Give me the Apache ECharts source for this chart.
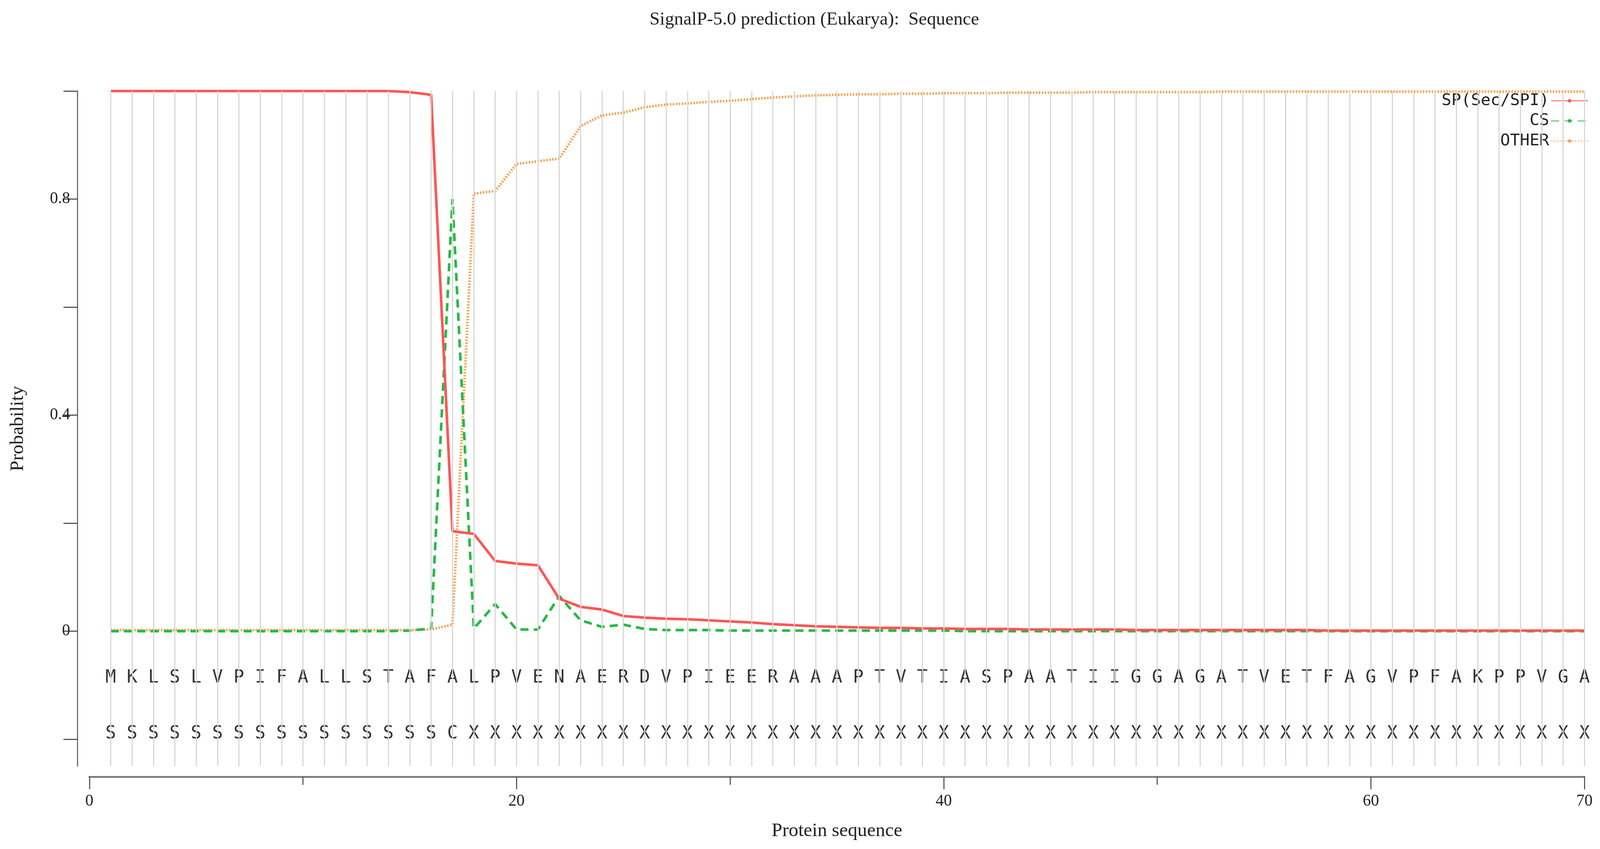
<!DOCTYPE html>
<html><head><meta charset="utf-8">
<script src="https://cdn.jsdelivr.net/npm/echarts@6/dist/echarts.min.js"></script>
<style>html,body{margin:0;padding:0;background:#fff;overflow:hidden}#c{width:100vw;height:100vh}</style>
</head><body><div id="c"></div>
<script>
const residues = "MKLSLVPIFALLSTAFALPVENAERDVPIEERAAAPTVTIASPAATIIGGAGATVETFAGVPFAKPPVGA".split("");
const labels = "SSSSSSSSSSSSSSSSCXXXXXXXXXXXXXXXXXXXXXXXXXXXXXXXXXXXXXXXXXXXXXXXXXXXXX".split("");
const positions = residues.map((_, i) => i + 1);
const sp = [1.0,1.0,1.0,1.0,1.0,1.0,1.0,1.0,1.0,1.0,1.0,1.0,1.0,1.0,0.998,0.993,0.185,0.18,0.13,0.125,
  0.122,0.06,0.045,0.04,0.028,0.025,0.023,0.022,0.02,0.018,0.016,0.013,0.011,0.009,0.008,0.007,0.006,0.006,0.005,0.005,
  0.004,0.004,0.004,0.003,0.003,0.003,0.003,0.003,0.002,0.002,0.002,0.002,0.002,0.002,0.002,0.002,0.002,0.001,0.001,0.001,
  0.001,0.001,0.001,0.001,0.001,0.001,0.001,0.001,0.001,0.001];
const cs = [0,0,0,0,0,0,0,0,0,0,0,0,0,0,0.001,0.005,0.80,0.005,0.05,0.003,
  0.003,0.065,0.02,0.008,0.012,0.004,0.002,0.002,0.002,0.001,0.001,0.001,0.001,0.001,0.001,0.001,0.001,0.001,0.001,0.001,
  0,0,0,0,0,0,0,0,0,0,0,0,0,0,0,0,0,0,0,0,0,0,0,0,0,0,0,0,0,0];
const other = [0.002,0.002,0.002,0.002,0.002,0.002,0.002,0.002,0.002,0.002,0.002,0.002,0.002,0.002,0.002,0.003,0.012,0.81,0.815,0.865,
  0.87,0.875,0.935,0.955,0.96,0.97,0.975,0.977,0.98,0.982,0.985,0.988,0.99,0.992,0.993,0.994,0.994,0.995,0.995,0.996,
  0.996,0.996,0.997,0.997,0.997,0.997,0.998,0.998,0.998,0.998,0.998,0.998,0.999,0.999,0.999,0.999,0.999,0.999,0.999,0.999,
  0.999,0.999,0.999,0.999,0.999,0.999,0.999,0.999,0.999,0.999];
const yTicks = [-0.2,0,0.2,0.4,0.6,0.8,1.0];
const yLabels = [0,0.4,0.8];
const seqY = -0.087, labY = -0.19;

const serif = "Liberation Serif", mono = "DejaVu Sans Mono";
const el = document.getElementById('c');
const W = el.clientWidth, H = el.clientHeight;
const sx = W / 4333, sy = H / 2173, s = Math.min(sx, sy);
const chart = echarts.init(el);
const pair = arr => positions.map((x, i) => [x, arr[i]]);
chart.setOption({
  animation: false,
  title: {text: 'SignalP-5.0 prediction (Eukarya):  Sequence', left: 2200 * sx, top: 22 * sy, textAlign: 'center',
    textStyle: {fontFamily: serif, fontSize: 50 * s, fontWeight: 'normal', color: '#222'}},
  legend: {data: ['SP(Sec/SPI)', 'CS', 'OTHER'], orient: 'vertical', right: 26 * sx, top: 232 * sy, align: 'right',
    itemWidth: 100 * s, itemHeight: 12 * s, itemGap: 10 * s, textStyle: {fontFamily: mono, fontSize: 44 * s, color: '#222'}},
  grid: {left: 242 * sx, right: 42 * sx, top: 233 * sy, bottom: 212 * sy},
  xAxis: {type: 'value', min: 0, max: 70, interval: 20, offset: 27 * sy,
    name: 'Protein sequence', nameLocation: 'middle', nameGap: 115 * sy,
    nameTextStyle: {fontFamily: serif, fontSize: 52 * s, color: '#222'},
    axisLine: {show: true, onZero: false, lineStyle: {color: '#777', width: 5 * s}},
    axisTick: {show: true, inside: false, length: 34 * s, lineStyle: {color: '#555', width: 3 * s}},
    minorTick: {show: true, splitNumber: 2, length: 22 * s, lineStyle: {color: '#555', width: 3 * s}},
    axisLabel: {fontFamily: serif, fontSize: 44 * s, color: '#222', margin: 44 * s},
    splitLine: {show: false}},
  yAxis: {type: 'value', min: -0.25, max: 1, offset: 32 * sx,
    name: 'Probability', nameLocation: 'middle', nameGap: 135 * sx, nameRotate: 90,
    nameTextStyle: {fontFamily: serif, fontSize: 52 * s, color: '#222'},
    axisLine: {show: true, onZero: false, lineStyle: {color: '#666', width: 3 * s}},
    axisTick: {show: true, length: 38 * s, customValues: yTicks, lineStyle: {color: '#555', width: 3 * s}},
    axisLabel: {customValues: yLabels, fontFamily: serif, fontSize: 44 * s, color: '#222', margin: 20 * s},
    splitLine: {show: false}},
  series: [
    {name: 'grid', type: 'line', data: [], silent: true,
      markLine: {silent: true, symbol: 'none', label: {show: false},
        lineStyle: {color: '#d6d6d6', width: 3 * s, type: 'solid'},
        data: positions.map(x => ({xAxis: x}))}},
    {name: 'seq', type: 'scatter', symbolSize: 0, silent: true, data: pair(positions.map(() => seqY)),
      label: {show: true, position: 'inside', formatter: p => residues[p.dataIndex],
        fontFamily: mono, fontSize: 48 * s, color: '#000'}},
    {name: 'lab', type: 'scatter', symbolSize: 0, silent: true, data: pair(positions.map(() => labY)),
      label: {show: true, position: 'inside', formatter: p => labels[p.dataIndex],
        fontFamily: mono, fontSize: 48 * s, color: '#000'}},
    {name: 'OTHER', type: 'line', data: pair(other), symbol: 'none', color: '#ffa04d',
      lineStyle: {width: 7 * s, type: [4 * s, 4 * s], color: '#ffa04d'}},
    {name: 'CS', type: 'line', data: pair(cs), symbol: 'none', color: '#22bb44',
      lineStyle: {width: 7 * s, type: [22 * s, 14 * s], color: '#22bb44'}},
    {name: 'SP(Sec/SPI)', type: 'line', data: pair(sp), symbol: 'none', color: '#ff5555',
      lineStyle: {width: 7 * s, type: 'solid', color: '#ff5555'}}
  ]
});
</script></body></html>
